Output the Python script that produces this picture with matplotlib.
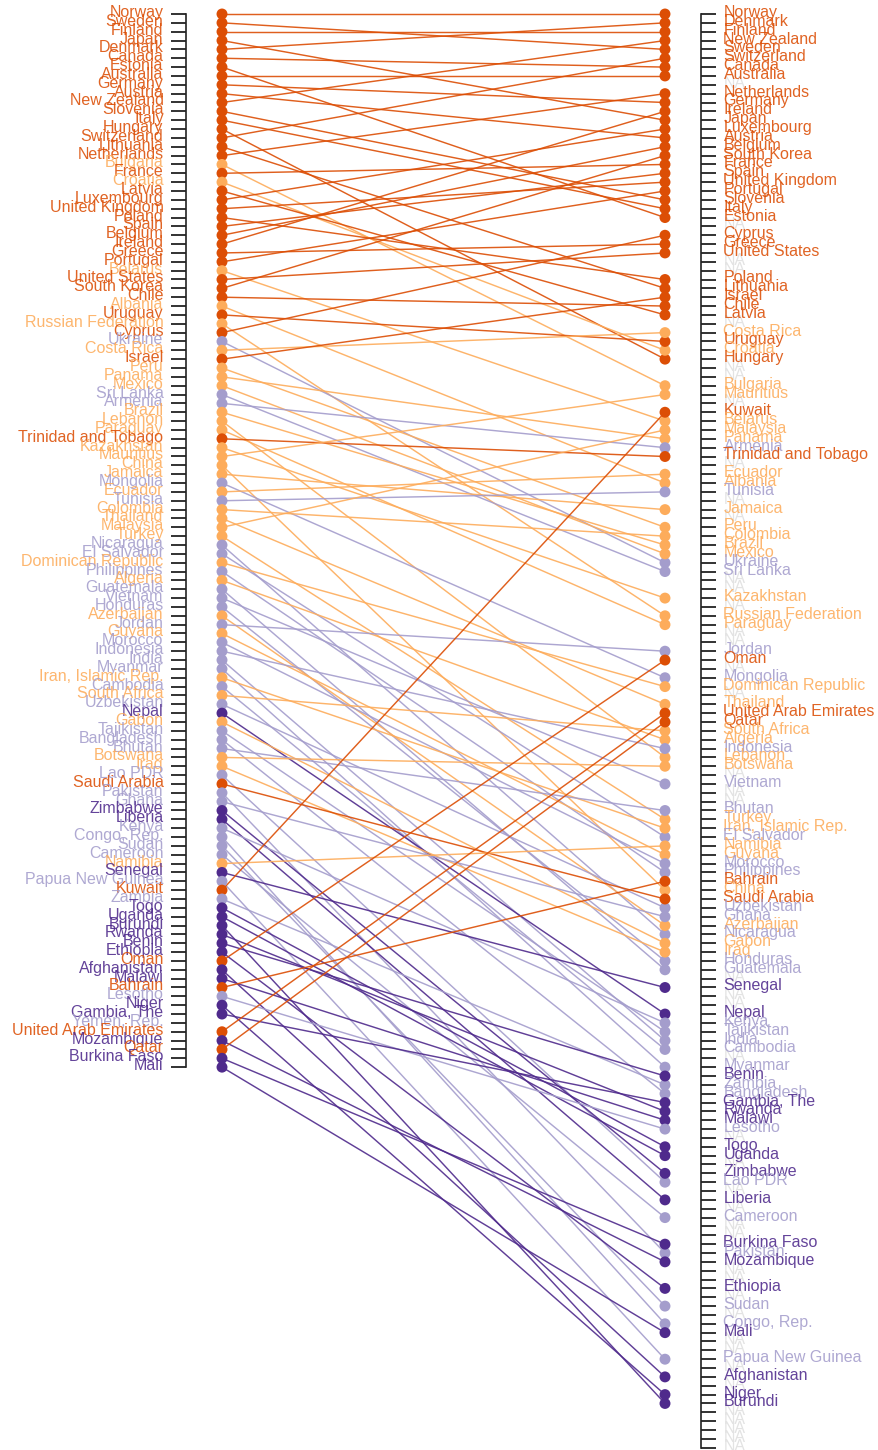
import matplotlib
matplotlib.use("Agg")
import matplotlib.pyplot as plt
from matplotlib.transforms import ScaledTranslation, blended_transform_factory

# Countries in order of the first ranking (left axis)
countries = [
    "Norway", "Sweden", "Finland", "Japan", "Denmark", "Canada", "Estonia", "Australia",
    "Germany", "Austria", "New Zealand", "Slovenia", "Italy", "Hungary", "Switzerland",
    "Lithuania", "Netherlands", "Bulgaria", "France", "Croatia", "Latvia", "Luxembourg",
    "United Kingdom", "Poland", "Spain", "Belgium", "Ireland", "Greece", "Portugal",
    "Belarus", "United States", "South Korea", "Chile", "Albania", "Uruguay",
    "Russian Federation", "Cyprus", "Ukraine", "Costa Rica", "Israel", "Peru", "Panama",
    "Mexico", "Sri Lanka", "Armenia", "Brazil", "Lebanon", "Paraguay", "Trinidad and Tobago",
    "Kazakhstan", "Mauritius", "China", "Jamaica", "Mongolia", "Ecuador", "Tunisia",
    "Colombia", "Thailand", "Malaysia", "Turkey", "Nicaragua", "El Salvador",
    "Dominican Republic", "Philippines", "Algeria", "Guatemala", "Vietnam", "Honduras",
    "Azerbaijan", "Jordan", "Guyana", "Morocco", "Indonesia", "India", "Myanmar",
    "Iran, Islamic Rep.", "Cambodia", "South Africa", "Uzbekistan", "Nepal", "Gabon",
    "Tajikistan", "Bangladesh", "Bhutan", "Botswana", "Iraq", "Lao PDR", "Saudi Arabia",
    "Pakistan", "Ghana", "Zimbabwe", "Liberia", "Kenya", "Congo, Rep.", "Sudan", "Cameroon",
    "Namibia", "Senegal", "Papua New Guinea", "Kuwait", "Zambia", "Togo", "Uganda",
    "Burundi", "Rwanda", "Benin", "Ethiopia", "Oman", "Afghanistan", "Malawi", "Bahrain",
    "Lesotho", "Niger", "Gambia, The", "Yemen, Rep.", "United Arab Emirates", "Mozambique",
    "Qatar", "Burkina Faso", "Mali",
]

# Income group: H = high, UM = upper middle, LM = lower middle, L = low
groups = [
    "H", "H", "H", "H", "H", "H", "H", "H",
    "H", "H", "H", "H", "H", "H", "H",
    "H", "H", "UM", "H", "UM", "H", "H",
    "H", "H", "H", "H", "H", "H", "H",
    "UM", "H", "H", "H", "UM", "H",
    "UM", "H", "LM", "UM", "H", "UM", "UM",
    "UM", "LM", "LM", "UM", "UM", "UM", "H",
    "UM", "UM", "UM", "UM", "LM", "UM", "LM",
    "UM", "UM", "UM", "UM", "LM", "LM",
    "UM", "LM", "UM", "LM", "LM", "LM",
    "UM", "LM", "UM", "LM", "LM", "LM", "LM",
    "UM", "LM", "UM", "LM", "L", "UM",
    "LM", "LM", "LM", "UM", "UM", "LM", "H",
    "LM", "LM", "L", "L", "LM", "LM", "LM", "LM",
    "UM", "L", "LM", "H", "LM", "L", "L",
    "L", "L", "L", "L", "H", "L", "L", "H",
    "LM", "L", "L", "LM", "H", "L",
    "H", "L", "L",
]

# Rank in the first ranking (left) and in the second ranking (right, None = missing)
rank_left = list(range(1, 121))
rank_right = [
    1, 5, 3, 13, 2, 7, 24, 8,
    11, 15, 4, 22, 23, 40, 6,
    32, 10, 43, 18, 39, 35, 14,
    20, 31, 19, 16, 12, 27, 21,
    47, 28, 17, 34, 54, 38,
    69, 26, 63, 37, 33, 59, 49,
    62, 64, 50, 61, 85, 70, 51,
    67, 44, 100, 57, 76, 53, 55,
    60, 79, 48, 92, 105, 94,
    77, 98, 83, 109, 88, 108,
    104, 73, 96, 97, 84, 117, 120,
    93, 118, 82, 102, 114, 106,
    116, 123, 91, 86, 107, 133, 101,
    141, 103, 132, 135, 115, 149, 147, 137,
    95, 111, 153, 46, 122, 129, 130,
    158, 125, 121, 145, 74, 155, 126, 99,
    127, 157, 124, None, 80, 142,
    81, 140, 150,
]
n_right_positions = 163
na_label = "NA"

palette = {"H": "#dc4e05", "UM": "#fdac5b", "LM": "#a49dcc", "L": "#4f2a8c"}
na_color = "#e3e3e3"
font = ["Liberation Sans", "DejaVu Sans"]
fs = 11.5

W, H = 879, 1450
fig = plt.figure(figsize=(W / 100, H / 100), dpi=100)
x_left_px, x_right_px = 185.5, 701.5
ax = fig.add_axes([x_left_px / W, 0, (x_right_px - x_left_px) / W, 1])

# y scale: rank 1 at 14 px from top, 8.85 px per rank
step = 8.85
y_top = 1 - 14 / step
y_bot = y_top + H / step
ax.set_ylim(y_bot, y_top)
# x scale: left dots at 222 px, right dots at 665 px
span = x_right_px - x_left_px
fa = (222 - x_left_px) / span
fb = (665 - x_left_px) / span
wdat = 1 / (fb - fa)
ax.set_xlim(-fa * wdat, -fa * wdat + wdat)

# lines
for c, g, rl, rr in zip(countries, groups, rank_left, rank_right):
    if rr is None:
        continue
    ax.plot([0, 1], [rl, rr], color=palette[g], lw=1.05, alpha=0.9, zorder=2,
            solid_capstyle="butt")

# points
valid = [i for i, r in enumerate(rank_right) if r is not None]
ax.scatter([0] * len(valid), [rank_left[i] for i in valid],
           c=[palette[groups[i]] for i in valid], s=62, zorder=3, linewidths=0, clip_on=False)
ax.scatter([1] * len(valid), [rank_right[i] for i in valid],
           c=[palette[groups[i]] for i in valid], s=62, zorder=3, linewidths=0, clip_on=False)

blend = blended_transform_factory(ax.transAxes, ax.transData)
left_off = blend + ScaledTranslation(-22 / 100, 3 / 100, fig.dpi_scale_trans)
right_off = blend + ScaledTranslation(22 / 100, 3 / 100, fig.dpi_scale_trans)

# left axis: ticks plus labels
ax.set_yticks(rank_left)
ax.set_yticklabels([])
for c, g, rl in zip(countries, groups, rank_left):
    ax.text(0, rl, c, transform=left_off, ha="right", va="center_baseline",
            fontsize=fs, family=font, color=palette[g], alpha=0.88, clip_on=False)
ax.tick_params(axis="y", direction="out", length=10.5, width=1.3, color="#222222")
ax.set_xticks([])
for s in ["top", "bottom", "right"]:
    ax.spines[s].set_visible(False)
ax.spines["left"].set_bounds(1, 120)
ax.spines["left"].set_color("#222222")
ax.spines["left"].set_linewidth(1.2)

# right axis: ticks plus labels (NA where the second ranking has a country not in the first)
ax2 = ax.twinx()
ax2.set_ylim(y_bot, y_top)
right_labels = [na_label] * n_right_positions
right_colors = [na_color] * n_right_positions
for c, g, rr in zip(countries, groups, rank_right):
    if rr is not None:
        right_labels[rr - 1] = c
        right_colors[rr - 1] = palette[g]
positions = list(range(1, n_right_positions + 1))
ax2.set_yticks(positions)
ax2.set_yticklabels([])
for pos, lab, col in zip(positions, right_labels, right_colors):
    is_na = col == na_color
    ax.text(1, pos, lab, transform=right_off, ha="left", va="center_baseline",
            fontsize=fs, family=font, color=col, alpha=1.0 if is_na else 0.88,
            zorder=4 if is_na else 5, clip_on=False)
ax2.tick_params(axis="y", direction="out", length=10.5, width=1.3, color="#222222")
for s in ["top", "bottom", "left"]:
    ax2.spines[s].set_visible(False)
ax2.spines["right"].set_bounds(1, n_right_positions)
ax2.spines["right"].set_color("#222222")
ax2.spines["right"].set_linewidth(1.2)

fig.savefig("out.png", dpi=100)
